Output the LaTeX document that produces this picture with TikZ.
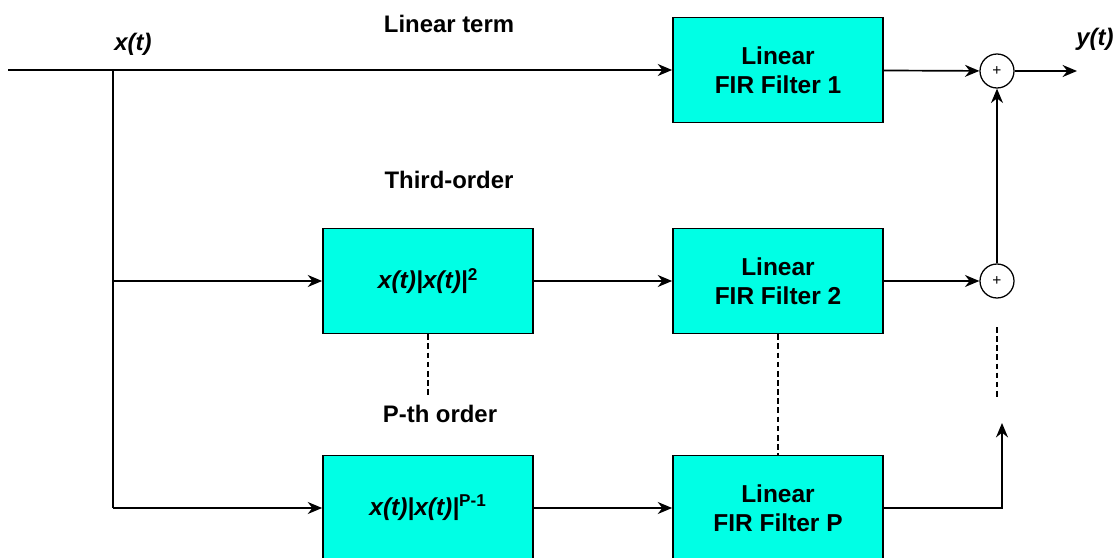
\documentclass[tikz,border=0pt]{standalone}
\usepackage{fontspec}
\setmainfont{Liberation Sans}
\usetikzlibrary{arrows.meta}
\definecolor{boxcyan}{RGB}{0,255,229}
\tikzset{
  blk/.style={draw, fill=boxcyan, line width=1.2pt, minimum width=5.25cm, minimum height=2.625cm, align=center, font=\fontsize{17.4}{20.5}\selectfont\bfseries},
  summ/.style={draw, circle, fill=white, minimum size=0.85cm, inner sep=0pt, line width=0.9pt, font=\fontsize{11}{12}\selectfont},
  lbl/.style={font=\fontsize{17}{20}\selectfont\bfseries},
  sig/.style={-{Stealth[length=0.36cm,width=0.3cm]}, line width=1.2pt},
  dots/.style={line width=0.8pt, dash pattern=on 4pt off 2.5pt},
}
\begin{document}
\begin{tikzpicture}[x=0.025cm,y=-0.025cm]
\clip (0,0) rectangle (1120,558);
%BLOCKS
\node[blk] (fir1) at (778,70) {Linear\\FIR Filter 1};
\node[blk] (pow2) at (428,281) {\itshape x(t)|x(t)|\textsuperscript{\upshape 2}};
\node[blk] (fir2) at (778,281) {Linear\\FIR Filter 2};
\node[blk] (powP) at (428,508) {\itshape x(t)|x(t)|\textsuperscript{\upshape P-1}};
\node[blk] (firP) at (778,508) {Linear\\FIR Filter P};
\node[summ] (sum1) at (997,71) {+};
\node[summ] (sum2) at (997,281) {+};

%LABELS
\node[lbl] (xlab) at (133,44) {\itshape x(t)};
\node[lbl] (ylab) at (1095,39) {\itshape y(t)};
\node[lbl] (lin) at (449,24) {Linear term};
\node[lbl] (third) at (449,180) {Third-order};
\node[lbl] (pth) at (440,414) {P-th order};

%INPUT AND BRANCHES
\coordinate (in) at (8,70);
\coordinate (br1) at (113,70);
\coordinate (br2) at (113,281);
\coordinate (br3) at (113,508);
\coordinate (yout) at (1077,71);
\coordinate (upend) at (1002,423);
\coordinate (dotend) at (428,395);
\coordinate (sdot1) at (997,327);
\coordinate (sdot2) at (997,397);

\draw[sig] (in) -- (fir1);
\draw[line width=1.2pt] (br1) -- (br3);
\draw[sig] (br2) -- (pow2);
\draw[sig] (br3) -- (powP);
\draw[sig] (pow2) -- (fir2);
\draw[sig] (powP) -- (firP);
\draw[sig] (fir1) -- (sum1);
\draw[sig] (fir2) -- (sum2);
\draw[sig] (sum2) -- (sum1);
\draw[sig] (sum1) -- (yout);
\draw[sig] (firP.east) -| (upend);

%DOTS
\draw[dots] (pow2) -- (dotend);
\draw[dots] (fir2) -- (firP);
\draw[dots] (sdot1) -- (sdot2);
\end{tikzpicture}
\end{document}
